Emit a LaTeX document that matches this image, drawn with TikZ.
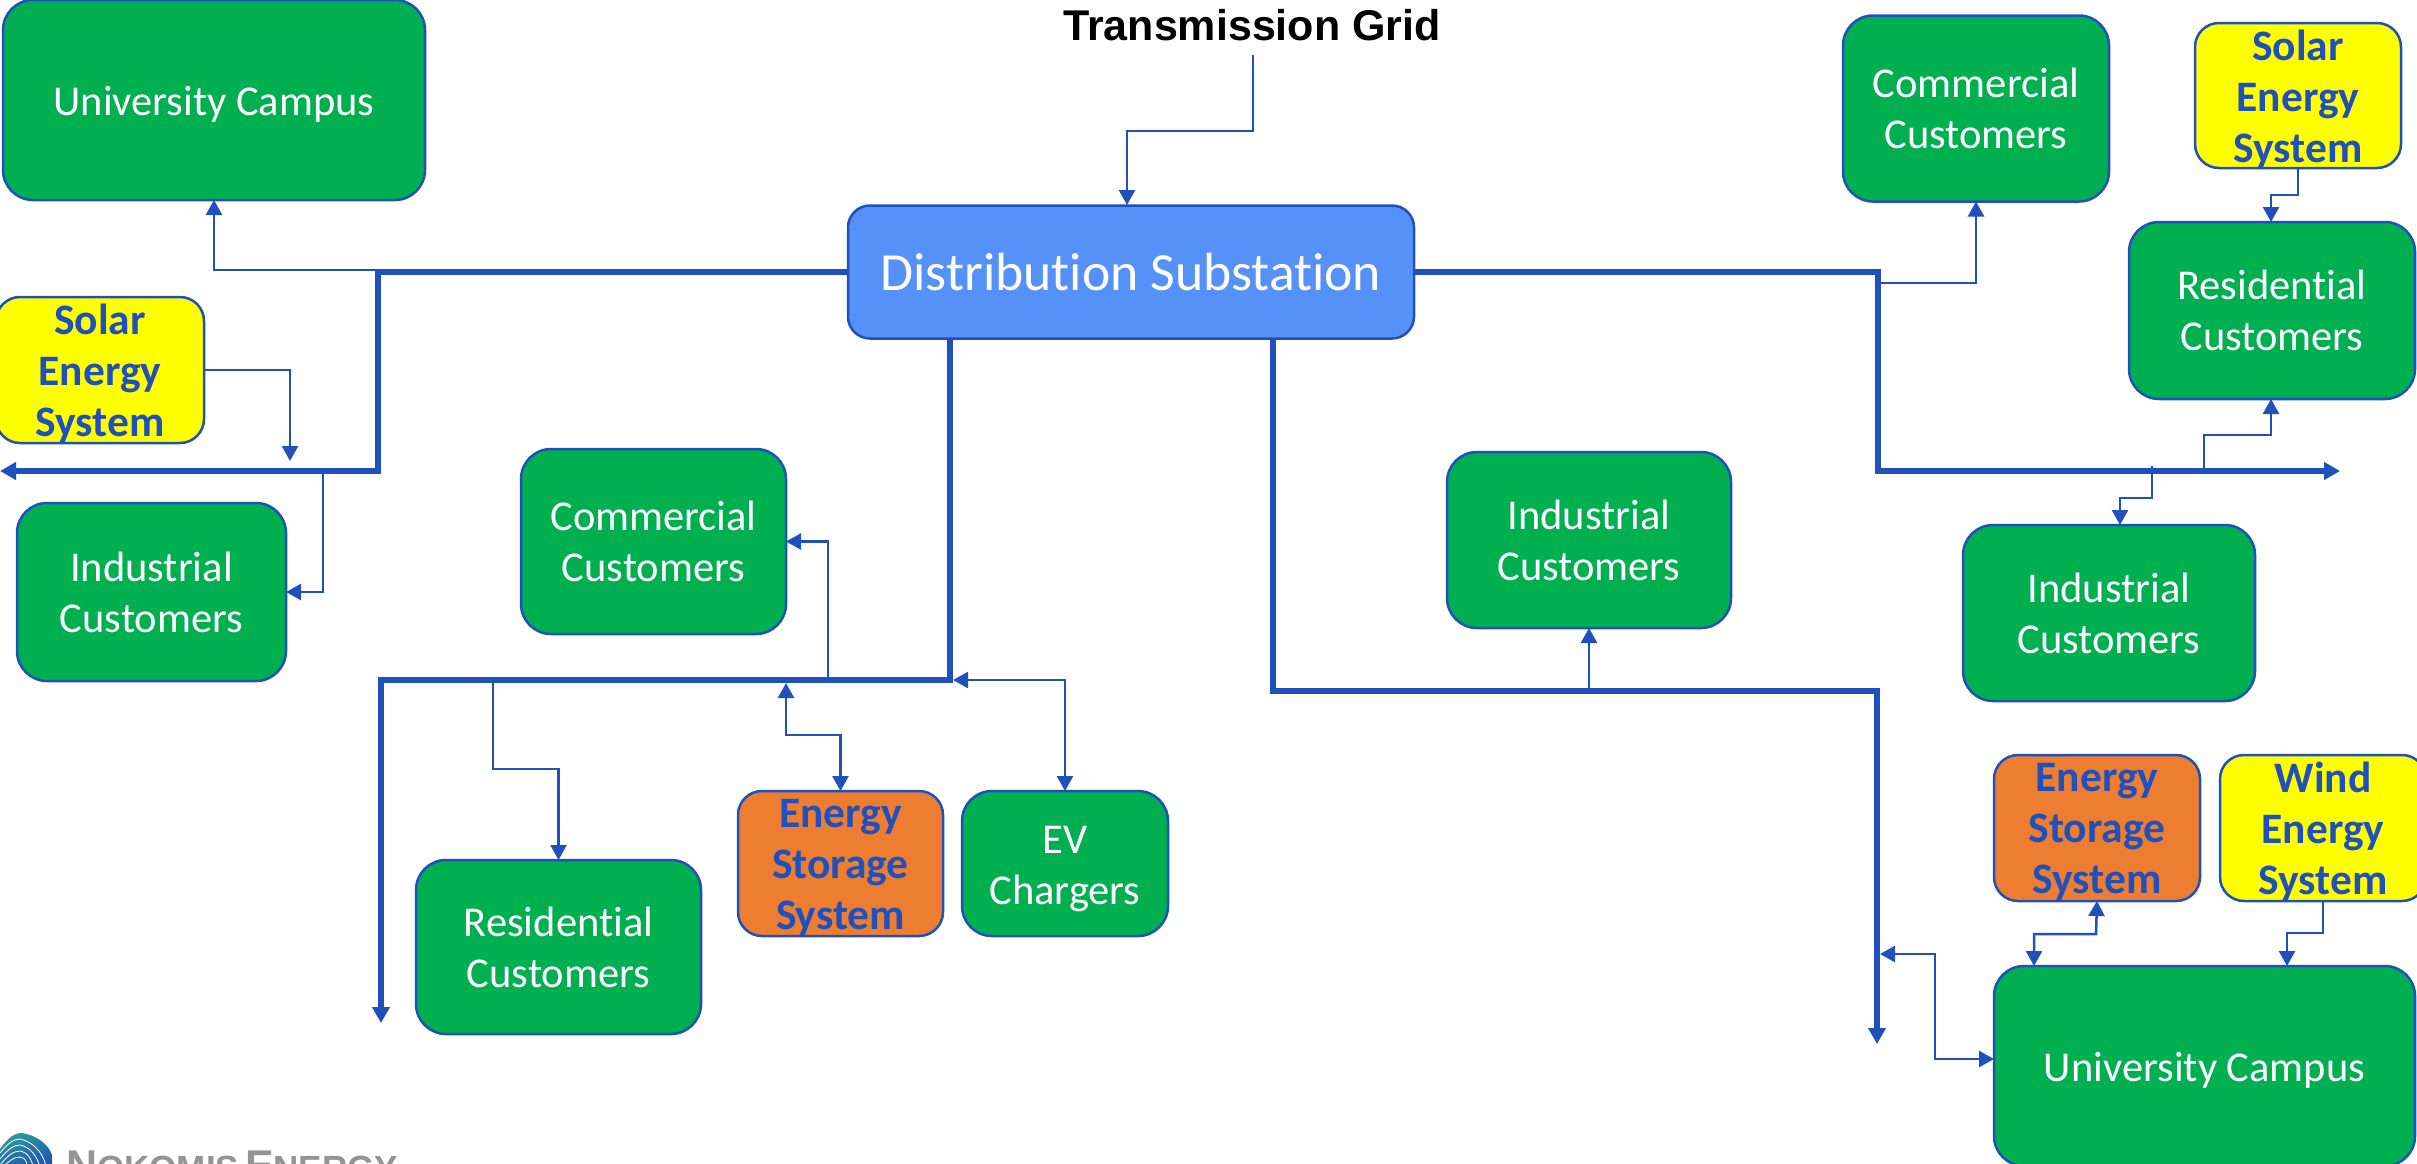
\documentclass[tikz,border=0pt]{standalone}
\usepackage{fontspec}
\setmainfont[Ligatures=NoCommon]{Carlito}
\newfontfamily\headfont{Liberation Sans}
\usetikzlibrary{arrows.meta}

\definecolor{linkblue}{HTML}{1F50BC}
\definecolor{custgreen}{HTML}{00B050}
\definecolor{storeorange}{HTML}{ED7D31}
\definecolor{genyellow}{HTML}{FFFF00}
\definecolor{subblue}{HTML}{5591F9}
\definecolor{logogray}{HTML}{949494}
\definecolor{logoteal}{HTML}{2A9A9A}
\definecolor{logoblue}{HTML}{2050B4}

\tikzset{
    box/.style={draw=linkblue, line width=2.5pt, outer sep=0pt, inner sep=0pt},
    custbox/.style={box, fill=custgreen, rounded corners=30pt, text=white, align=center,
        font=\fontsize{42.5}{51}\selectfont},
    srcbox/.style={box, rounded corners=24pt},
    srctext/.style={text=linkblue, align=center, inner sep=0pt, yshift=-4pt,
        font=\fontsize{43.5}{51}\selectfont\bfseries},
    feed/.style={draw=linkblue, line width=2.5pt, -{Triangle[length=15pt,width=16pt]}},
    feedboth/.style={draw=linkblue, line width=2.5pt, {Triangle[length=15pt,width=16pt]}-{Triangle[length=15pt,width=16pt]}},
    bus/.style={draw=linkblue, line width=5.5pt},
    busend/.style={bus, -{Triangle[length=16pt,width=17pt]}},
}

\begin{document}
\begin{tikzpicture}[x=1pt, y=-1pt]

\useasboundingbox (0, 0) rectangle (2417, 1163);

% Logo, cut by the lower edge
\shade[left color=logoteal, right color=logoblue, shading angle=20]
    (0, 1149) .. controls (8, 1138) and (14, 1133) .. (22, 1133)
    .. controls (35, 1135) and (48, 1143) .. (52, 1155) -- (52, 1170) -- (0, 1170) -- cycle;
\foreach \i in {3, 9, 15, 21} {
    \draw[white, line width=0.8pt] (0, {1150 + \i}) .. controls (8, {1140 + \i}) and (14, {1136 + \i}) .. (20, {1136 + \i})
        .. controls (30, {1138 + \i}) and ({46 - \i}, {1146 + \i}) .. ({50 - \i}, 1170);
}
\node[anchor=base west, inner sep=0pt, text=logogray] (logotext) at (66, 1180)
    {\headfont\bfseries\fontsize{43}{43}\selectfont N\fontsize{35}{35}\selectfont OKOMIS\,\fontsize{43}{43}\selectfont E\fontsize{35}{35}\selectfont NERGY};

% Top of the tree
\node[text=black, inner sep=0pt, font=\headfont\fontsize{43}{43}\selectfont\bfseries] (grid) at (1252, 25) {Transmission Grid};
\node[box, fill=subblue, rounded corners=22pt, text=white, minimum width=566pt, minimum height=133pt,
    font=\fontsize{53.7}{60}\selectfont] (sub) at (1131, 272) {Distribution Substation};

% Customers
\node[custbox, minimum width=422pt, minimum height=200pt] (campusA) at (214, 100) {\raisebox{-15pt}[0pt][0pt]{University Campus}};
\node[custbox, minimum width=269pt, minimum height=178pt] (indA) at (151.5, 592) {Industrial\\Customers};
\node[custbox, minimum width=265pt, minimum height=185pt] (comB) at (653.5, 541.5) {Commercial\\Customers};
\node[custbox, minimum width=285pt, minimum height=174pt] (resB) at (558.5, 947) {Residential\\Customers};
\node[custbox, minimum width=206pt, minimum height=145pt] (evB) at (1065, 863.5) {\rule{0pt}{39pt}EV\\Chargers};
\node[custbox, minimum width=284pt, minimum height=176pt] (indC) at (1589, 540) {Industrial\\Customers};
\node[custbox, minimum width=266pt, minimum height=186pt] (comD) at (1976, 108.5) {Commercial\\Customers};
\node[custbox, minimum width=286pt, minimum height=177pt] (resD) at (2272, 310.5) {Residential\\Customers};
\node[custbox, minimum width=292pt, minimum height=176pt] (indD) at (2109, 613) {Industrial\\Customers};
\node[custbox, minimum width=421pt, minimum height=200pt] (campusE) at (2204.5, 1066) {\raisebox{-15pt}[0pt][0pt]{University Campus}};

% Sources and storage, the text is higher than its box
\node[srcbox, fill=genyellow, minimum width=208pt, minimum height=146pt] (solA) at (100, 370) {};
\node[srctext] (solAtext) at (solA) {Solar\\Energy\\System};
\node[srcbox, fill=storeorange, minimum width=205pt, minimum height=145pt] (stoB) at (840.5, 863.5) {};
\node[srctext] (stoBtext) at (stoB) {Energy\\Storage\\System};
\node[srcbox, fill=genyellow, minimum width=206pt, minimum height=145pt] (solD) at (2298, 95.5) {};
\node[srctext] (solDtext) at (solD) {Solar\\Energy\\System};
\node[srcbox, fill=storeorange, minimum width=206pt, minimum height=146pt] (stoE) at (2097, 828) {};
\node[srctext] (stoEtext) at (stoE) {Energy\\Storage\\System};
\node[srcbox, fill=genyellow, minimum width=206pt, minimum height=146pt] (winE) at (2323, 828) {};
\node[srctext] (winEtext) at (winE) {Wind\\Energy\\System};

% Bus corners and free ends
\coordinate (westTop) at (378, 272);
\coordinate (westBot) at (378, 471);
\coordinate (westEnd) at (0, 471);
\coordinate (midTop) at (950, 338);
\coordinate (midBot) at (950, 680);
\coordinate (midCor) at (381, 680);
\coordinate (midEnd) at (381, 1023);
\coordinate (eastTop) at (1878, 272);
\coordinate (eastBot) at (1878, 471);
\coordinate (eastEnd) at (2340, 471);
\coordinate (southTop) at (1273, 338);
\coordinate (southCor) at (1877, 691);
\coordinate (southEnd) at (1877, 1044);

% Thick buses
\draw[busend] (sub.west |- westTop) -- (westTop) -- (westBot) -- (westEnd);
\draw[busend] (sub.east |- eastTop) -- (eastTop) -- (eastBot) -- (eastEnd);
\draw[busend] (midTop) -- (midBot) -- (midCor) -- (midEnd);
\draw[busend] (southTop) -- (southTop |- southCor) -- (southCor) -- (southEnd);

% Thin links, west
\coordinate (campusAtap) at (430, 270);
\draw[feed] (campusAtap) -| (campusA.south);
\coordinate (solAdrop) at (290, 461);
\draw[feed] (solA.east) -| (solAdrop);
\coordinate (indAtap) at (323, 473);
\draw[feed] (indAtap) |- (indA.east);

% Thin links, middle
\coordinate (comBtap) at (828, 680);
\draw[feed] (comBtap) |- (comB.east);
\coordinate (resBtap) at (493, 680);
\coordinate (resBmid) at (493, 769);
\draw[feed] (resBtap) -- (resBmid) -| (resB.north);
\coordinate (stoBtap) at (786, 683);
\coordinate (stoBmid) at (786, 735);
\draw[feedboth] (stoBtap) -- (stoBmid) -| (stoB.north);
\coordinate (evBtap) at (953, 680);
\draw[feedboth] (evBtap) -| (evB.north);
\coordinate (indCtap) at (1589, 691);
\draw[feed] (indCtap) -- (indC.south);

% Thin links, grid and east
\coordinate (gridTop) at (1253, 55);
\coordinate (gridMid) at (1253, 131);
\coordinate (subIn) at (1127, 205);
\draw[feed] (gridTop) -- (gridMid) -| (subIn);
\coordinate (comDtap) at (1878, 283);
\draw[feed] (comDtap) -| (comD.south);
\coordinate (solDmid) at (2298, 195);
\coordinate (resDin) at (2271, 222);
\draw[feed] (solD.south) -- (solDmid) -| (resDin);
\coordinate (resDtap) at (2204, 471);
\coordinate (resDmid) at (2204, 435);
\coordinate (resDout) at (2271, 399);
\draw[feed] (resDtap) -- (resDmid) -| (resDout);
\coordinate (indDtap) at (2152, 466);
\coordinate (indDmid) at (2152, 498);
\coordinate (indDin) at (2120, 525);
\draw[feed] (indDtap) -- (indDmid) -| (indDin);

% Thin links, south east
\coordinate (stoEmid) at (2096, 934);
\coordinate (campusEin) at (2034, 966);
\draw[feedboth] (stoE.south) -- (stoEmid) -| (campusEin);
\coordinate (winEmid) at (2323, 933);
\coordinate (campusEwin) at (2287, 966);
\draw[feed] (winE.south) -- (winEmid) -| (campusEwin);
\coordinate (campusEtap) at (1880, 954);
\coordinate (campusEmid) at (1935, 954);
\coordinate (campusEside) at (1994, 1059);
\draw[feedboth] (campusEtap) -- (campusEmid) |- (campusEside);

\end{tikzpicture}
\end{document}
